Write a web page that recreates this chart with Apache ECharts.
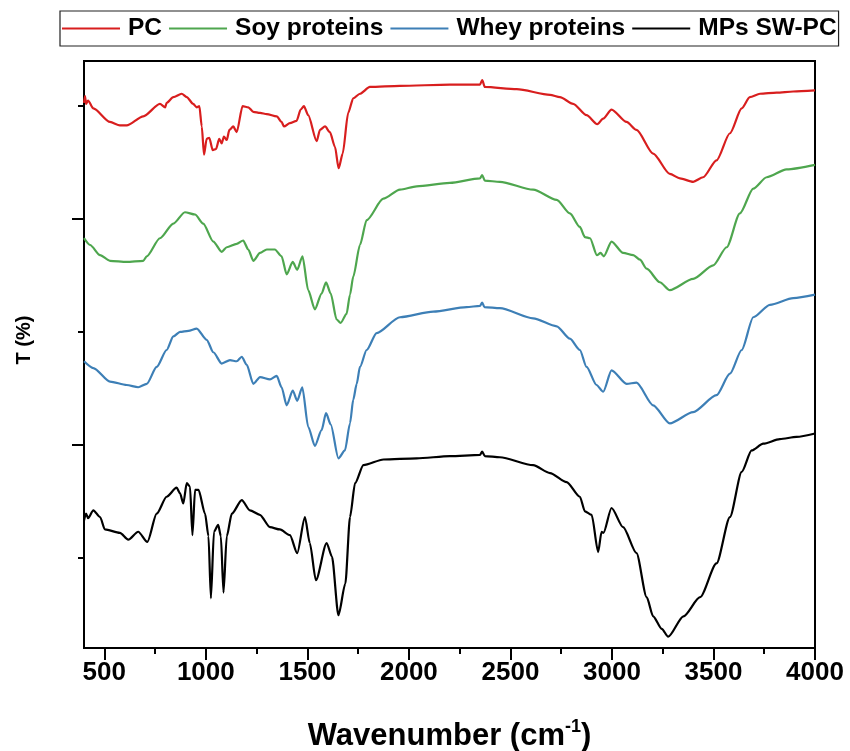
<!DOCTYPE html>
<html>
<head>
<meta charset="utf-8">
<script src="https://cdn.jsdelivr.net/npm/echarts@6/dist/echarts.min.js"></script>
<style>
html,body{margin:0;padding:0;background:#fff;}
#chart{width:850px;height:751px;}
</style>
</head>
<body>
<div id="chart"></div>
<script>
// ---- data (wavenumber in cm-1, transmittance in offset arbitrary units) ----
const seriesNames = ['PC', 'Soy proteins', 'Whey proteins', 'MPs SW-PC'];

const pcWave = [400,405,410,420,446,528,577,610,692,774,800,807,840,881,906,938,955,968,980,991,1004,1017,1034,1050,1066,1078,1089,1103,1116,1135,1152,1181,1209,1234,1267,1300,1349,1373,1385,1414,1447,1467,1483,1504,1546,1562,1587,1611,1636,1654,1674,1701,1726,1759,1808,1956,2202,2350,2361,2374,2531,2695,2744,2809,2875,2928,2957,2998,3072,3121,3203,3285,3335,3400,3449,3515,3581,3639,3679,3729,3811,3893,4000];
const pcT = [5.03,5.09,5.02,5.05,4.98,4.86,4.83,4.83,4.91,5.02,4.99,5.03,5.08,5.11,5.08,5.02,4.99,5.00,4.82,4.57,4.71,4.72,4.61,4.62,4.71,4.67,4.73,4.70,4.79,4.82,4.77,5.00,4.99,4.95,4.94,4.93,4.91,4.86,4.82,4.85,4.87,4.97,5.00,4.92,4.69,4.79,4.82,4.77,4.64,4.45,4.58,4.94,5.07,5.11,5.17,5.18,5.19,5.19,5.23,5.17,5.15,5.10,5.08,5.02,4.92,4.84,4.89,4.97,4.86,4.79,4.58,4.40,4.36,4.33,4.37,4.52,4.76,4.98,5.08,5.11,5.12,5.13,5.14];

const soyWave = [400,430,479,528,610,692,709,774,840,897,947,987,1037,1078,1103,1152,1184,1209,1234,1267,1300,1340,1373,1398,1428,1450,1476,1504,1537,1570,1592,1615,1644,1664,1693,1710,1726,1759,1792,1874,1956,2038,2202,2350,2361,2374,2448,2612,2728,2793,2842,2867,2892,2926,2944,2960,2998,3055,3105,3138,3171,3236,3285,3400,3499,3565,3630,3696,3762,3860,4000];
const soyT = [3.83,3.77,3.68,3.63,3.62,3.63,3.67,3.83,3.96,4.06,4.04,3.96,3.80,3.71,3.75,3.78,3.81,3.73,3.63,3.70,3.73,3.73,3.67,3.51,3.62,3.55,3.67,3.37,3.20,3.34,3.44,3.34,3.11,3.08,3.16,3.33,3.49,3.77,3.99,4.18,4.26,4.29,4.32,4.36,4.39,4.34,4.33,4.26,4.17,4.05,3.93,3.84,3.83,3.68,3.70,3.67,3.80,3.70,3.68,3.64,3.56,3.44,3.37,3.47,3.59,3.75,4.05,4.27,4.37,4.44,4.48];

const wheyWave = [400,446,528,610,667,709,758,807,840,873,914,955,1004,1037,1078,1119,1152,1177,1201,1234,1267,1316,1349,1373,1398,1428,1450,1475,1504,1537,1570,1592,1615,1653,1685,1710,1726,1743,1759,1792,1841,1956,2120,2284,2350,2361,2372,2448,2612,2728,2793,2842,2875,2924,2957,2998,3072,3121,3203,3285,3400,3515,3581,3639,3696,3778,3893,4000];
const wheyT = [2.74,2.68,2.56,2.53,2.51,2.54,2.69,2.84,2.96,3.00,3.01,3.03,2.93,2.82,2.72,2.75,2.74,2.78,2.71,2.54,2.60,2.58,2.61,2.51,2.35,2.48,2.39,2.51,2.16,1.99,2.13,2.28,2.18,1.88,1.95,2.19,2.40,2.54,2.69,2.84,2.99,3.13,3.18,3.22,3.23,3.26,3.22,3.21,3.12,3.05,2.94,2.84,2.69,2.53,2.47,2.66,2.54,2.55,2.35,2.19,2.29,2.44,2.63,2.84,3.13,3.24,3.30,3.33];

const mpWave = [400,410,420,446,479,503,577,618,667,712,758,807,856,873,889,906,922,934,947,964,996,1013,1025,1040,1061,1074,1087,1103,1128,1177,1217,1266,1316,1365,1414,1450,1488,1512,1542,1595,1621,1653,1687,1710,1735,1776,1875,2038,2202,2350,2361,2374,2448,2612,2695,2777,2842,2867,2900,2932,2949,2958,2998,3055,3121,3171,3203,3245,3277,3352,3434,3515,3581,3639,3688,3745,3827,3909,4000];
const mpT = [1.33,1.39,1.35,1.42,1.36,1.25,1.22,1.16,1.23,1.14,1.39,1.54,1.62,1.57,1.48,1.66,1.63,1.20,1.60,1.60,1.39,1.19,0.64,1.23,1.29,1.19,0.69,1.19,1.39,1.51,1.42,1.38,1.27,1.25,1.20,1.04,1.36,1.13,0.80,1.13,1.01,0.49,0.77,1.36,1.66,1.82,1.87,1.88,1.90,1.91,1.94,1.90,1.89,1.82,1.75,1.67,1.54,1.41,1.38,1.05,1.23,1.22,1.44,1.27,1.04,0.65,0.48,0.37,0.30,0.48,0.65,0.95,1.36,1.76,1.95,2.01,2.05,2.07,2.10];

const xMajorTicks = [500,1000,1500,2000,2500,3000,3500,4000];
const xMinorTicks = [750,1250,1750,2250,2750,3250,3750];
const yMajorTicks = [2,4];
const yMinorTicks = [1,3,5];
const colors = ['#d81e1e', '#4ea64e', '#3d7fb6', '#000000'];

// ---- chart ----
const zip = (a, b) => a.map((x, i) => [x, b[i]]);
const seriesData = [zip(pcWave, pcT), zip(soyWave, soyT), zip(wheyWave, wheyT), zip(mpWave, mpT)];

const font = '"Liberation Sans", Arial, Helvetica, sans-serif';

const chart = echarts.init(document.getElementById('chart'), null, {renderer: 'canvas'});
const axisLineStyle = {color: '#000', width: 2};

chart.setOption({
  animation: false,
  backgroundColor: '#fff',
  color: colors,
  legend: {
    left: 60, top: 11,
    padding: [5, 2, 5, 2],
    itemWidth: 58, itemHeight: 14, itemGap: 7,
    borderColor: '#222', borderWidth: 1.2,
    textStyle: {fontFamily: font, fontWeight: 'bold', fontSize: 24.5, color: '#000', padding: [0, 0, 0, 3]},
    data: seriesNames.map(n => ({name: n, icon: 'path://M0,0 L58,0 L58,2.2 L0,2.2 Z'}))
  },
  grid: {left: 84, right: 35, top: 61, bottom: 103, show: true, borderColor: '#000', borderWidth: 2,
         containLabel: false, outerBoundsMode: 'none'},
  xAxis: [
    {
      type: 'value', min: 400, max: 4000, position: 'bottom',
      name: '{a|Wavenumber (cm}{b|-1}{a|)}', nameLocation: 'middle', nameGap: 70,
      nameTextStyle: {
        rich: {
          a: {fontFamily: font, fontWeight: 'bold', fontSize: 31, color: '#000', lineHeight: 36},
          b: {fontFamily: font, fontWeight: 'bold', fontSize: 18, color: '#000', verticalAlign: 'top', lineHeight: 18}
        }
      },
      axisLine: {show: true, lineStyle: axisLineStyle},
      axisTick: {show: true, customValues: xMajorTicks, length: 12, lineStyle: {color: '#000', width: 2}},
      axisLabel: {show: true, customValues: xMajorTicks, margin: 12, formatter: v => String(v),
                  fontFamily: font, fontWeight: 'bold', fontSize: 26, color: '#000'},
      splitLine: {show: false}
    },
    {
      type: 'value', min: 400, max: 4000, position: 'bottom',
      axisLine: {show: false},
      axisTick: {show: true, customValues: xMinorTicks, length: 6, lineStyle: {color: '#000', width: 2}},
      axisLabel: {show: false},
      splitLine: {show: false}
    }
  ],
  yAxis: [
    {
      type: 'value', min: 0.2, max: 5.4, position: 'left',
      axisLine: {show: true, lineStyle: axisLineStyle},
      axisTick: {show: true, customValues: yMajorTicks, length: 12, lineStyle: {color: '#000', width: 2}},
      axisLabel: {show: false},
      splitLine: {show: false}
    },
    {
      type: 'value', min: 0.2, max: 5.4, position: 'left',
      axisLine: {show: false},
      axisTick: {show: true, customValues: yMinorTicks, length: 6, lineStyle: {color: '#000', width: 2}},
      axisLabel: {show: false},
      splitLine: {show: false}
    }
  ],
  graphic: [{
    type: 'text', x: 24, y: 340, rotation: Math.PI / 2,
    style: {text: 'T (%)', fontFamily: font, fontWeight: 'bold', fontSize: 20, fill: '#000', align: 'center', verticalAlign: 'middle'}
  }],
  series: seriesNames.map((n, i) => ({
    name: n, type: 'line', xAxisIndex: 0, yAxisIndex: 0,
    data: seriesData[i], symbol: 'none', smooth: 0.25, smoothMonotone: 'x',
    lineStyle: {color: colors[i], width: 2.2}, itemStyle: {color: colors[i]},
    z: 4 - i
  }))
});
</script>
</body>
</html>
